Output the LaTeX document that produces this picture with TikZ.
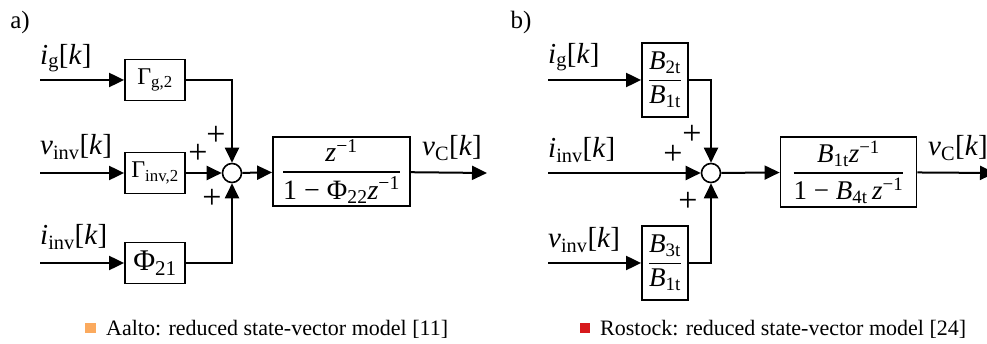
\documentclass[tikz,border=0pt]{standalone}
\usepackage{amsmath}
\usepackage{fontspec}
\setmainfont{Liberation Serif}
\usepackage{tikz}
\usetikzlibrary{arrows.meta, positioning}
\definecolor{aaltocolor}{HTML}{FBAA5E}
\definecolor{rostockcolor}{HTML}{D7191C}

\newcommand{\sgn}[2]{\textit{#1}\textsubscript{#2}[\textit{k}]}
\newcommand{\zinv}{\textit{z}\textsuperscript{−1}}
\newcommand{\Bt}[1]{\textit{B}\textsubscript{#1t}}
\newcommand{\bfrac}[2]{$\genfrac{}{}{1.4pt}{0}{\text{#1}}{\text{#2}}$}

\begin{document}
\begin{tikzpicture}[x=1pt, y=-1pt,
    block/.style={draw, line width=1.8pt, inner sep=0pt, minimum width=60pt, minimum height=41pt, font=\fontsize{24}{26}\selectfont},
    sumnode/.style={circle, draw, line width=1.6pt, minimum size=19pt, inner sep=0pt},
    sig/.style={line width=2pt, -{Triangle[length=15pt, width=14pt]}},
    lbl/.style={anchor=west, inner sep=0pt, font=\fontsize{29}{31}\selectfont},
    pm/.style={inner sep=0pt, font=\fontsize{34}{36}\selectfont},
    legend/.style={anchor=west, inner sep=0pt, font=\fontsize{22}{24}\selectfont}]
  \useasboundingbox (0,0) rectangle (987,344);

  % a) Aalto
  \node[inner sep=0pt, font=\fontsize{25}{27}\selectfont] (tagA) at (20,22) {a)};
  \coordinate (inA1) at (40,80);
  \coordinate (inA2) at (40,173);
  \coordinate (inA3) at (40,263);
  \node[lbl] (lA1) at (40,58) {\sgn{i}{g}};
  \node[lbl] (lA2) at (40,147) {\sgn{v}{inv}};
  \node[lbl] (lA3) at (40,237) {\sgn{i}{inv}};
  \node[block] (gA1) at (155,80) {Γ\textsubscript{g,2}};
  \node[block] (gA2) at (155,173) {Γ\textsubscript{inv,2}};
  \node[block, font=\fontsize{30}{32}\selectfont] (gA3) at (155,263) {Φ\textsubscript{21}};
  \node[sumnode] (sumA) at (232,173) {};
  \node[block, minimum width=137pt, minimum height=69pt, font=\fontsize{28}{30}\selectfont] (tfA) at (341.5,171.5)
    {\bfrac{\zinv}{1 − Φ\textsubscript{22}\zinv}};
  \coordinate (outA) at (487,173);
  \node[lbl] (lA4) at (422,148) {\sgn{v}{C}};
  \node[pm] at (216,136) {+};
  \node[pm] at (198,154) {+};
  \node[pm] at (212,199) {+};

  \draw[sig] (inA1) -- (gA1);
  \draw[sig] (inA2) -- (gA2);
  \draw[sig] (inA3) -- (gA3);
  \draw[sig] (gA1.east) -| (sumA.north);
  \draw[sig] (gA2) -- (sumA);
  \draw[sig] (gA3.east) -| (sumA.south);
  \draw[sig] (sumA) -- (tfA);
  \draw[sig] (tfA) -- (outA);

  % b) Rostock
  \node[inner sep=0pt, font=\fontsize{25}{27}\selectfont] (tagB) at (521,22) {b)};
  \coordinate (inB1) at (548,80);
  \coordinate (inB2) at (548,173);
  \coordinate (inB3) at (548,263);
  \node[lbl] (lB1) at (548,57) {\sgn{i}{g}};
  \node[lbl] (lB2) at (548,150) {\sgn{i}{inv}};
  \node[lbl] (lB3) at (548,240) {\sgn{v}{inv}};
  \node[block, minimum width=46pt, minimum height=74pt, font=\fontsize{27}{29}\selectfont] (gB1) at (665,80)
    {\bfrac{\Bt{2}}{\Bt{1}}};
  \node[block, minimum width=46pt, minimum height=74pt, font=\fontsize{27}{29}\selectfont] (gB3) at (665,263)
    {\bfrac{\Bt{3}}{\Bt{1}}};
  \node[sumnode] (sumB) at (711,173) {};
  \node[block, minimum width=136pt, minimum height=70pt, font=\fontsize{27}{29}\selectfont] (tfB) at (848.5,172)
    {\bfrac{\Bt{1}\zinv}{1 − \Bt{4}\,\zinv}};
  \coordinate (outB) at (995,173);
  \node[lbl] (lB4) at (928,148) {\sgn{v}{C}};
  \node[pm] at (692,135) {+};
  \node[pm] at (673,155) {+};
  \node[pm] at (688,202) {+};

  \draw[sig] (inB1) -- (gB1);
  \draw[sig] (inB2) -- (sumB);
  \draw[sig] (inB3) -- (gB3);
  \draw[sig] (gB1.east) -| (sumB.north);
  \draw[sig] (gB3.east) -| (sumB.south);
  \draw[sig] (sumB) -- (tfB);
  \draw[sig] (tfB) -- (outB);

  % legend
  \fill[aaltocolor] (85,323) rectangle (96,333);
  \node[legend] (legA) at (106,329) {Aalto: reduced state-vector model [11]};
  \fill[rostockcolor] (580,323) rectangle (590,333);
  \node[legend] (legB) at (600,329) {Rostock: reduced state-vector model [24]};
\end{tikzpicture}
\end{document}
